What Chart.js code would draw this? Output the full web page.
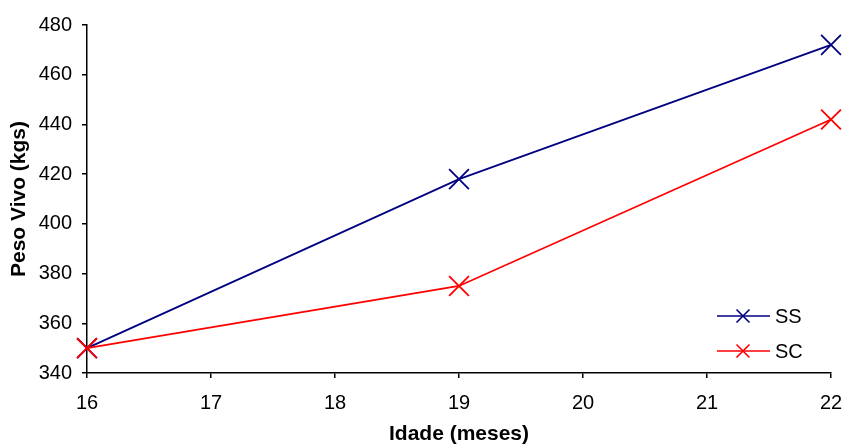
<!DOCTYPE html>
<html>
<head>
<meta charset="utf-8">
<script src="https://cdn.jsdelivr.net/npm/chart.js@4.4.1/dist/chart.umd.min.js"></script>
<style>
  html, body { margin: 0; padding: 0; background: #fff; }
  #wrap { width: 847px; height: 447px; }
</style>
</head>
<body>
<div id="wrap"><canvas id="grafico" width="847" height="447"></canvas></div>
<script>
// Datos
const idades = [16, 19, 22];
const pesoSS = [350, 418, 472];
const pesoSC = [350, 375, 442];
const series = [
  { nome: "SS", valores: pesoSS, cor: "#000080", ordem: 1 },
  { nome: "SC", valores: pesoSC, cor: "#FF0000", ordem: 0 }
];

const fonte = "'Liberation Sans', Arial, sans-serif";

// Leyenda dentro del area del grafico (abajo a la derecha)
const leyendaInterna = {
  id: "leyendaInterna",
  afterDraw(chart) {
    const { ctx, chartArea } = chart;
    const x0 = chartArea.right - 114;
    const y0 = chartArea.bottom - 57;
    ctx.save();
    chart.data.datasets.forEach((ds, i) => {
      const y = y0 + i * 35;
      ctx.strokeStyle = ds.borderColor;
      ctx.lineWidth = 1.6;
      ctx.beginPath();
      ctx.moveTo(x0, y);
      ctx.lineTo(x0 + 53, y);
      ctx.stroke();
      const cx = x0 + 26, r = 6.5;
      ctx.beginPath();
      ctx.moveTo(cx - r, y - r); ctx.lineTo(cx + r, y + r);
      ctx.moveTo(cx - r, y + r); ctx.lineTo(cx + r, y - r);
      ctx.stroke();
      ctx.fillStyle = "#000";
      ctx.font = "20px " + fonte;
      ctx.textBaseline = "middle";
      ctx.fillText(ds.label, x0 + 58, y + 1);
    });
    ctx.restore();
  }
};

const ctx = document.getElementById("grafico").getContext("2d");
new Chart(ctx, {
  type: "line",
  data: {
    datasets: series.map(s => ({
      label: s.nome,
      data: idades.map((x, i) => ({ x, y: s.valores[i] })),
      order: s.ordem,
      borderColor: s.cor,
      backgroundColor: s.cor,
      borderWidth: 1.8,
      pointStyle: "crossRot",
      pointRadius: 14,
      pointBorderWidth: 1.8,
      fill: false,
      tension: 0,
      clip: false
    }))
  },
  options: {
    responsive: false,
    animation: false,
    layout: { padding: { top: 25, right: 16, left: 0, bottom: 0 } },
    plugins: {
      legend: { display: false },
      tooltip: { enabled: false }
    },
    scales: {
      x: {
        type: "linear",
        min: 16,
        max: 22,
        afterFit: s => { s.height = 74; s.paddingLeft = 0; s.paddingRight = 0; },
        ticks: { stepSize: 1, color: "#000", padding: 13, font: { family: fonte, size: 20 } },
        grid: { drawOnChartArea: false, drawTicks: true, tickLength: 5, color: "#000", lineWidth: 1.5 },
        border: { color: "#000", width: 1.5 },
        title: { display: true, text: "Idade (meses)", color: "#000", padding: { top: 0, bottom: 0 },
                 font: { family: fonte, size: 21, weight: "bold" } }
      },
      y: {
        min: 340,
        max: 480,
        afterFit: s => { s.width = 87; s.paddingTop = 0; s.paddingBottom = 0; },
        ticks: { stepSize: 20, color: "#000", padding: 10, font: { family: fonte, size: 20 } },
        grid: { drawOnChartArea: false, drawTicks: true, tickLength: 5, color: "#000", lineWidth: 1.5 },
        border: { color: "#000", width: 1.5 },
        title: { display: true, text: "Peso Vivo (kgs)", color: "#000", padding: { top: 7, bottom: 0 },
                 font: { family: fonte, size: 21, weight: "bold" } }
      }
    }
  },
  plugins: [leyendaInterna]
});
</script>
</body>
</html>
